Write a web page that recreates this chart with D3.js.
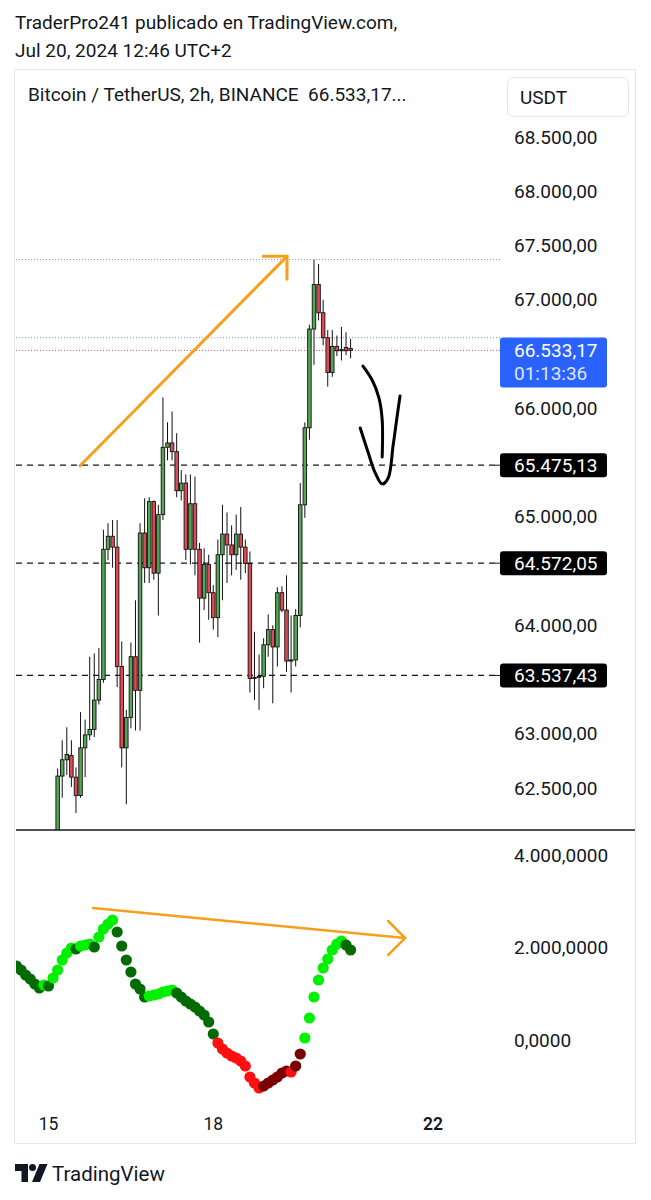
<!DOCTYPE html>
<html><head><meta charset="utf-8">
<script src="https://cdn.jsdelivr.net/npm/d3@7"></script>
<style>
body{margin:0;background:#fff}
svg{display:block}
text{font-family:Roboto,"Noto Sans",sans-serif;fill:#131722}
</style>
</head><body>
<svg id="c" width="651" height="1200"></svg>
<script>
// ---------------- DATA ----------------
const headerLine1 = "TraderPro241 publicado en TradingView.com,";
const headerLine2 = "Jul 20, 2024 12:46 UTC+2";
const chartTitle = "Bitcoin / TetherUS, 2h, BINANCE  66.533,17...";
const currencyLabel = "USDT";
const firstBar = new Date(2024, 6, 15, 4, 0);   // first visible 2h candle
const barHours = 2;

const opens  = [61950,62610,62760,62800,62600,62430,62870,62990,63040,63310,63500,64700,64820,64720,63620,62870,63150,63710,63400,64850,64530,65140,64480,65020,65640,65680,65600,65240,65310,64700,65120,64700,64250,64560,64300,64070,64650,64840,64740,64650,64840,64720,64570,63510,63520,63530,63820,63960,63800,64300,64140,63670,63680,64090,65110,65820,66730,67140,66880,66650,66330,66570,66530,66560,66550];
const highs  = [62680,62940,63060,62940,62690,63200,63130,63710,63740,63790,64880,64940,64970,64970,63850,63220,63840,64230,64940,65170,65180,65150,65110,66100,65870,65970,65770,65430,65390,65390,65370,64760,64710,64650,64370,64790,65110,65040,64920,65020,65090,64790,64680,63940,63730,63880,64100,64000,64350,64360,64460,64090,64150,65310,65870,66770,67370,67330,67000,66720,66720,66670,66750,66700,66640];
const lows   = [61900,62410,62620,62510,62270,62410,62600,62940,62970,63270,63470,64600,64530,63430,62690,62350,63050,63030,63030,64390,64390,64420,64090,64970,65520,65520,65180,65150,64600,64560,64460,63840,64140,64050,63960,63890,64230,64390,64460,64510,64420,64480,63380,63310,63220,63420,63710,63280,63620,64120,63570,63380,63620,63980,64990,65710,66400,66810,66580,66200,66290,66480,66440,66490,66460];
const closes = [62610,62760,62810,62600,62430,62870,62990,63040,63310,63500,64700,64820,64720,63620,62870,63150,63710,63400,64850,64530,65140,64480,65020,65640,65680,65600,65240,65310,64700,65120,64700,64250,64560,64300,64070,64650,64840,64740,64650,64840,64720,64570,63510,63520,63530,63820,63960,63800,64300,64140,63670,63680,64090,65110,65820,66730,67140,66880,66650,66330,66570,66530,66540,66530,66533.17];

// indicator values, first value belongs to bar index -9 (before first visible candle)
const indicatorStartBar = -9;
const indicatorValues = [1600.0,1513.5,1405.4,1318.9,1210.8,1124.3,1189.2,1167.6,1340.6,
  1513.5,1729.8,1881.1,1989.2,1967.6,2032.5,2054.1,2075.7,2010.8,2227.1,2400.0,2508.2,2594.6,
  2335.2,2032.5,1729.8,1470.3,1210.8,1102.7,929.7,951.4,973.0,994.6,1037.9,1059.5,1081.1,
  1016.2,929.7,843.3,778.4,713.5,627.0,540.6,389.2,129.7,
  -64.9,-194.6,-281.1,-345.9,-389.2,-454.1,-562.2,-800.0,-929.7,-1037.9,
  -994.6,-929.7,-864.9,-800.0,-713.5,-670.3,-692.0,-562.2,-302.7,
  43.2,475.7,929.7,1297.3,1556.8,1751.4,1946.0,2075.7,2140.6,2054.1,1946.0];

const priceTicks = d3.range(62500, 68501, 500);
const levelPrices = [65475.13, 64572.05, 63537.43];
const lastPrice = 66533.17;
const bidLinePrice = 66650;
const countdown = "01:13:36";
const indicatorTicks = [0, 2000, 4000];
const timeTicks = [new Date(2024,6,15), new Date(2024,6,18), new Date(2024,6,22)];
const boldTimeTicks = [22];

// drawings, as [bar index, price/value]
const priceArrow = [[4.9, 65470], [50.1, 67400]];
const priceArrowHead = [[44.9, 67400], [50.1, 67400], [50.1, 67190]];
const indArrow = [[7.7, 2854], [75.9, 2205]];
const indArrowHead = [[72.2, 2573], [75.9, 2205], [72.2, 1838]];
const handStrokeA = [[66.7,66389],[68.7,66260],[70.2,66094],[70.9,65892],[70.9,65551]];
const handStrokeB = [[66.1,65818],[67.8,65597],[69.3,65412],[70.9,65302],[72.2,65357],[73.3,65661],[74.2,65938],[74.8,66113]];

// ---------------- DRAW ----------------
const svg = d3.select("#c");
const loc = d3.formatLocale({decimal:",", thousands:".", grouping:[3], currency:["",""]});
const f2 = loc.format(",.2f"), f4 = loc.format(",.4f");

const paneL = 16, paneR = 500, frameR = 635;
const priceTop = 70, priceBot = 830, indTop = 831, indBot = 1105;
const labelX = 514, labelSize = 19, badgeW = 107;

const x = d3.scaleTime().domain([new Date(2024,6,15), new Date(2024,6,22)]).range([48.5, 433]);
const barTime = i => new Date(firstBar.getTime() + i * barHours * 3600e3);
const bx = i => x(barTime(i));
const y = d3.scaleLinear().domain([62500, 68500]).range([788, 137]);
const yi = d3.scaleLinear().domain([0, 4000]).range([1040, 855]);

const defs = svg.append("defs");
defs.append("clipPath").attr("id","cp").append("rect").attr("x",paneL).attr("y",priceTop).attr("width",paneR-paneL).attr("height",priceBot-priceTop);
defs.append("clipPath").attr("id","ci").append("rect").attr("x",paneL).attr("y",indTop).attr("width",paneR-paneL).attr("height",indBot-indTop);

// header
svg.append("text").attr("x",15).attr("y",29).attr("font-size",19).text(headerLine1);
svg.append("text").attr("x",15).attr("y",57).attr("font-size",19).text(headerLine2);

// frame
svg.append("rect").attr("x",14.5).attr("y",69.5).attr("width",frameR-14).attr("height",1074)
  .attr("fill","none").attr("stroke","#e6e8ee");

// title & currency box
svg.append("text").attr("x",28).attr("y",101).attr("font-size",19).style("white-space","pre").text(chartTitle);
svg.append("rect").attr("x",507.5).attr("y",77.5).attr("width",121).attr("height",39).attr("rx",6)
  .attr("fill","#fff").attr("stroke","#e6e8ee");
svg.append("text").attr("x",520).attr("y",104).attr("font-size",19).text(currencyLabel);

// price pane
const gp = svg.append("g").attr("clip-path","url(#cp)");
const hiPrice = d3.max(highs);
gp.append("line").attr("x1",paneL).attr("x2",paneR).attr("y1",y(hiPrice)).attr("y2",y(hiPrice))
  .attr("stroke","#8c8f99").attr("stroke-dasharray","1,2");
gp.append("line").attr("x1",paneL).attr("x2",paneR).attr("y1",y(bidLinePrice)).attr("y2",y(bidLinePrice))
  .attr("stroke","#6f93c9").attr("stroke-dasharray","1,2");
gp.append("line").attr("x1",paneL).attr("x2",paneR).attr("y1",y(lastPrice)).attr("y2",y(lastPrice))
  .attr("stroke","#e0505a").attr("stroke-dasharray","1,2");
gp.selectAll(".lvl").data(levelPrices).join("line").attr("class","lvl")
  .attr("x1",paneL).attr("x2",paneR).attr("y1",d=>y(d)).attr("y2",d=>y(d))
  .attr("stroke","#131722").attr("stroke-width",1.3).attr("stroke-dasharray","6,5");

const bars = opens.map((o,i)=>({i,o,h:highs[i],l:lows[i],c:closes[i]}));
gp.selectAll(".wick").data(bars).join("line").attr("class","wick")
  .attr("x1",d=>bx(d.i)).attr("x2",d=>bx(d.i)).attr("y1",d=>y(d.h)).attr("y2",d=>y(d.l))
  .attr("stroke","#111").attr("stroke-width",1);
const bw = 3.5;
gp.selectAll(".body").data(bars).join("rect").attr("class","body")
  .attr("x",d=>bx(d.i)-bw/2).attr("width",bw)
  .attr("y",d=>y(Math.max(d.o,d.c))).attr("height",d=>Math.max(1,Math.abs(y(d.o)-y(d.c))))
  .attr("fill",d=>d.c>=d.o?"#53a653":"#dd4b57").attr("stroke","#111").attr("stroke-width",0.9);

// drawings in price pane
const pl = d3.line().x(d=>bx(d[0])).y(d=>y(d[1]));
const orange = "#f5a01a";
gp.append("path").attr("d",pl(priceArrow)).attr("fill","none").attr("stroke",orange).attr("stroke-width",3).attr("stroke-linecap","round");
gp.append("path").attr("d",pl(priceArrowHead)).attr("fill","none").attr("stroke",orange).attr("stroke-width",3).attr("stroke-linecap","round");
const hl = d3.line().x(d=>bx(d[0])).y(d=>y(d[1])).curve(d3.curveCatmullRom);
svg.append("path").attr("d",hl(handStrokeA)).attr("fill","none").attr("stroke","#000").attr("stroke-width",3).attr("stroke-linecap","round");
svg.append("path").attr("d",hl(handStrokeB)).attr("fill","none").attr("stroke","#000").attr("stroke-width",3).attr("stroke-linecap","round");

// price axis labels
const badgeYs = [y(lastPrice)+12, ...levelPrices.map(y)];
priceTicks.filter(p => badgeYs.every(by => Math.abs(by - y(p)) > 24)).forEach(p=>{
  svg.append("text").attr("x",labelX).attr("y",y(p)+6.5).attr("font-size",labelSize).text(f2(p));
});
levelPrices.forEach(p=>{
  svg.append("line").attr("x1",495).attr("x2",501).attr("y1",y(p)).attr("y2",y(p)).attr("stroke","#131722");
  svg.append("rect").attr("x",500).attr("y",y(p)-12).attr("width",badgeW).attr("height",24).attr("rx",3).attr("fill","#000");
  svg.append("text").attr("x",labelX).attr("y",y(p)+6.5).attr("font-size",labelSize).style("fill","#fff").text(f2(p));
});
svg.append("rect").attr("x",500).attr("y",y(lastPrice)-13).attr("width",badgeW).attr("height",50).attr("rx",3).attr("fill","#2962ff");
svg.append("text").attr("x",labelX).attr("y",y(lastPrice)+6.5).attr("font-size",labelSize).style("fill","#fff").text(f2(lastPrice));
svg.append("text").attr("x",labelX).attr("y",y(lastPrice)+30).attr("font-size",labelSize).style("fill","#dfe6ff").text(countdown);

// separator
svg.append("line").attr("x1",paneL).attr("x2",frameR).attr("y1",830).attr("y2",830).attr("stroke","#131722").attr("stroke-width",1.5);

// indicator pane
const gi = svg.append("g").attr("clip-path","url(#ci)");
const ind = indicatorValues.map((v,k)=>({i:indicatorStartBar+k, v, prev: k>0?indicatorValues[k-1]:null}));
const dotColor = d => {
  const up = d.prev !== null && d.v >= d.prev;
  if (d.v >= 0) return up ? "#00f000" : "#046a04";
  return up ? "#7a0000" : "#ff1010";
};
gi.selectAll(".dot").data(ind).join("circle").attr("class","dot")
  .attr("cx",d=>bx(d.i)).attr("cy",d=>yi(d.v)).attr("r",5.6).attr("fill",dotColor);
const il = d3.line().x(d=>bx(d[0])).y(d=>yi(d[1]));
svg.append("path").attr("d",il(indArrow)).attr("fill","none").attr("stroke",orange).attr("stroke-width",2.5).attr("stroke-linecap","round");
svg.append("path").attr("d",il(indArrowHead)).attr("fill","none").attr("stroke",orange).attr("stroke-width",2.5).attr("stroke-linecap","round");

indicatorTicks.forEach(v=>{
  svg.append("text").attr("x",labelX).attr("y",yi(v)+6.5).attr("font-size",labelSize).text(f4(v));
});

// time axis
timeTicks.forEach(t=>{
  svg.append("text").attr("x",x(t)).attr("y",1130).attr("text-anchor","middle").attr("font-size",17.5)
    .attr("font-weight", boldTimeTicks.includes(t.getDate()) ? 600 : 400).text(t.getDate());
});

// footer logo
const lg = svg.append("g").attr("fill","#131722");
lg.append("path").attr("d","M15,1164 h13 v18 h-6.5 v-11 h-6.5 z");
lg.append("circle").attr("cx",32.5).attr("cy",1167.5).attr("r",3.5);
lg.append("path").attr("d","M39.5,1164 h8 l-7.5,18 h-8 z");
svg.append("text").attr("x",52).attr("y",1181).attr("font-size",20.5).text("TradingView");
</script>
</body></html>
